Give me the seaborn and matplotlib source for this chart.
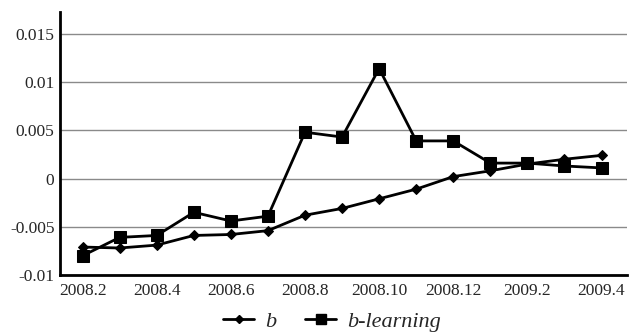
import matplotlib
matplotlib.use("Agg")
import matplotlib.pyplot as plt
from matplotlib.lines import Line2D
import seaborn as sns
import pandas as pd

months = ["2008.2", "2008.3", "2008.4", "2008.5", "2008.6", "2008.7", "2008.8",
          "2008.9", "2008.10", "2008.11", "2008.12", "2009.1", "2009.2",
          "2009.3", "2009.4"]
b_values = [-0.0071, -0.0072, -0.0069, -0.0059, -0.0058, -0.0054, -0.0038,
            -0.0031, -0.0021, -0.0011, 0.0002, 0.0008, 0.0015, 0.0020, 0.0024]
b_learning_values = [-0.0080, -0.0061, -0.0059, -0.0035, -0.0044, -0.0039, 0.0048,
                     0.0043, 0.0114, 0.0039, 0.0039, 0.0016, 0.0016, 0.0013, 0.0011]
series_names = ["b", "b-learning"]
y_ticks = [-0.01, -0.005, 0, 0.005, 0.01, 0.015]
y_tick_labels = ["-0.01", "-0.005", "0", "0.005", "0.01", "0.015"]

df = pd.DataFrame({
    "month": months * 2,
    "pos": list(range(len(months))) * 2,
    "value": b_values + b_learning_values,
    "series": [series_names[0]] * len(months) + [series_names[1]] * len(months),
})

sns.set_theme(style="white")
plt.rcParams["font.family"] = ["Liberation Serif", "DejaVu Serif"]

fig = plt.figure(figsize=(6.35, 3.36), dpi=100)
ax = fig.add_axes([0.0945, 0.1815, 0.8925, 0.7825])

# horizontal reference lines at each y tick
for y in y_ticks:
    ax.axhline(y, color="#8a8a8a", linewidth=1.0, zorder=0)

sns.lineplot(data=df, x="pos", y="value", hue="series", style="series",
             palette={"b": "black", "b-learning": "black"},
             markers={"b": "D", "b-learning": "s"}, dashes=False,
             sort=False, linewidth=2.0, ax=ax, legend=False)

for line, ms in zip(ax.lines[-2:], [5.5, 8.5]):
    line.set_markersize(ms)
    line.set_markeredgecolor("black")

ax.set_xlim(-0.61, 14.68)
ax.set_ylim(-0.01, 0.01725)
ax.set_yticks(y_ticks)
ax.set_yticklabels(y_tick_labels, fontsize=12.5)
ax.set_xticks(range(0, len(months), 2))
ax.set_xticklabels(months[::2], fontsize=12.5)
ax.tick_params(axis="x", direction="in", length=3, width=1.5, color="black", pad=6)
ax.tick_params(axis="y", length=0, pad=4)
ax.set_xlabel("")
ax.set_ylabel("")

for side in ["top", "right"]:
    ax.spines[side].set_visible(False)
for side in ["left", "bottom"]:
    ax.spines[side].set_color("black")
    ax.spines[side].set_linewidth(2.0)

handles = [
    Line2D([], [], color="black", linewidth=2.0, marker="D", markersize=4.5),
    Line2D([], [], color="black", linewidth=2.0, marker="s", markersize=7),
]
fig.legend(handles, series_names, loc="center", bbox_to_anchor=(0.523, 0.043),
           ncol=2, frameon=False, handlelength=1.4, handletextpad=0.5,
           columnspacing=1.3, prop={"style": "italic", "size": 16})

fig.savefig("out.png", dpi=100, facecolor="white")
